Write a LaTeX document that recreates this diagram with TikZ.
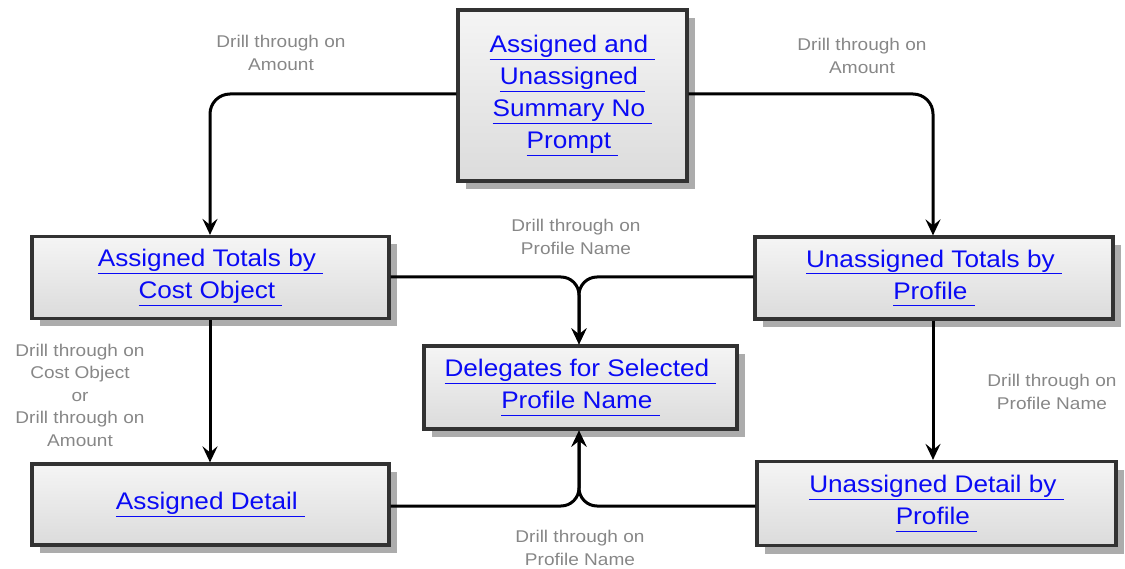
\documentclass[tikz,border=0pt]{standalone}
\usepackage{fontspec}
\setmainfont{Liberation Sans}
\newfontfamily\boxfont[FakeStretch=1.09]{Liberation Sans}
\newfontfamily\lblfont[FakeStretch=1.12]{Liberation Sans}
\usetikzlibrary{arrows.meta,shadows}
\definecolor{linkblue}{RGB}{10,10,245}
\definecolor{lblgray}{RGB}{135,135,135}
\definecolor{boxborder}{RGB}{50,50,50}
\newcommand{\lnk}[1]{\underline{#1\vphantom{gp}\ }}
\tikzset{
  page/.style={x=1pt,y=-1pt},
  repbox/.style={draw=boxborder, line width=3.2pt, top color=gray!8, bottom color=gray!28,
    drop shadow={shadow xshift=8pt, shadow yshift=-8pt, fill=gray!65, opacity=1},
    align=center, text=linkblue, font=\boxfont\fontsize{24}{32}\selectfont, inner sep=0pt},
  lbl/.style={text=lblgray, align=center, font=\lblfont\fontsize{17}{22.5}\selectfont, inner sep=0pt},
  conn/.style={line width=3pt, -{Stealth[length=16pt,width=15pt,inset=6pt]}},
  merge/.style={conn, rounded corners=18pt},
}
\begin{document}
\begin{tikzpicture}[page]
\useasboundingbox (0,0) rectangle (1125,569);
\node[repbox, minimum width=229pt, minimum height=171pt] (top) at (572.5,95.5)
  {\lnk{Assigned and}\\ \lnk{Unassigned}\\ \lnk{Summary No}\\ \lnk{Prompt}};
\node[repbox, minimum width=357pt, minimum height=82pt] (at) at (210.5,277.5)
  {\lnk{Assigned Totals by}\\ \lnk{Cost Object}};
\node[repbox, minimum width=358pt, minimum height=82pt] (ut) at (934,278)
  {\lnk{Unassigned Totals by}\\ \lnk{Profile}};
\node[repbox, minimum width=313pt, minimum height=83pt] (del) at (580.5,387.5)
  {\lnk{Delegates for Selected}\\ \lnk{Profile Name}};
\node[repbox, minimum width=357pt, minimum height=81pt] (ad) at (210.5,504.5)
  {\lnk{Assigned Detail}};
\node[repbox, minimum width=359pt, minimum height=84pt] (ud) at (936.5,503.5)
  {\lnk{Unassigned Detail by}\\ \lnk{Profile}};

\coordinate (ltop) at (210,94);
\coordinate (rtop) at (933,94);
\draw[conn, rounded corners=20pt] (top.west |- ltop) -| (at.north -| ltop);
\draw[conn, rounded corners=20pt] (top.east |- rtop) -| (ut.north -| rtop);
\draw[conn] (at.south -| ltop) -- (ad.north -| ltop);
\draw[conn] (ut.south -| rtop) -- (ud.north -| rtop);

\coordinate (mt) at (579,277);
\coordinate (mb) at (579,506);
\draw[merge] (at.east |- mt) -| (del.north -| mt);
\draw[merge] (ut.west |- mt) -| (del.north -| mt);
\draw[merge] (ad.east |- mb) -| (del.south -| mb);
\draw[merge] (ud.west |- mb) -| (del.south -| mb);

\node[lbl] (l1) at (281,53) {Drill through on\\Amount};
\node[lbl] (l2) at (862,56) {Drill through on\\Amount};
\node[lbl] (l3) at (576,237) {Drill through on\\Profile Name};
\node[lbl] (l4) at (80,395) {Drill through on\\Cost Object\\or\\Drill through on\\Amount};
\node[lbl] (l5) at (1052,392) {Drill through on\\Profile Name};
\node[lbl] (l6) at (580,548) {Drill through on\\Profile Name};
\end{tikzpicture}
\end{document}
